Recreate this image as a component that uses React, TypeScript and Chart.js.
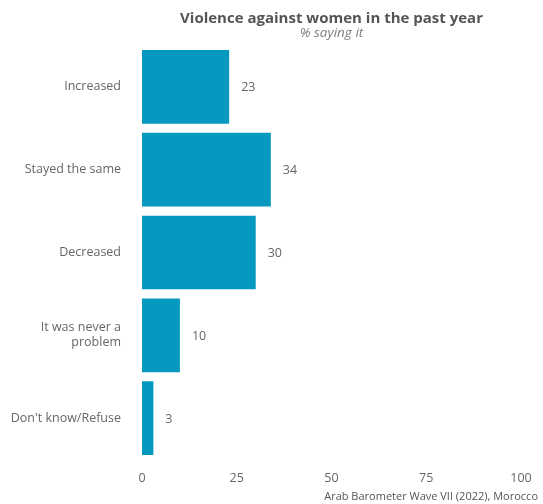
import React, { useEffect, useRef } from "react";
import { Chart, registerables } from "chart.js";

Chart.register(...registerables);

const categories: (string | string[])[] = [
  "Increased",
  "Stayed the same",
  "Decreased",
  ["It was never a", "problem"],
  "Don't know/Refuse",
];
const values: number[] = [23, 34, 30, 10, 3];
const xTicks: number[] = [0, 25, 50, 75, 100];
const titleText = "Violence against women in the past year";
const subtitleText = "% saying it";
const captionText = "Arab Barometer Wave VII (2022), Morocco";

const FONT = "'Open Sans', 'DejaVu Sans', sans-serif";
const BAR = "#0599bf";

export default function App() {
  const ref = useRef<HTMLCanvasElement>(null);
  useEffect(() => {
    document.body.style.margin = "0";
    const canvas = ref.current!;
    const labelsPlugin = {
      id: "extras",
      afterDatasetsDraw(chart: any) {
        const ctx = chart.ctx;
        const meta = chart.getDatasetMeta(0);
        ctx.save();
        ctx.font = `12.5px ${FONT}`;
        ctx.fillStyle = "#666666";
        ctx.textAlign = "left";
        ctx.textBaseline = "middle";
        meta.data.forEach((el: any, i: number) => {
          ctx.fillText(String(values[i]), el.x + 12, el.y + 1);
        });
        const ca = chart.chartArea;
        const cx = (ca.left + ca.right) / 2;
        ctx.textAlign = "center";
        ctx.textBaseline = "alphabetic";
        ctx.fillStyle = "#555555";
        ctx.font = `bold 15px ${FONT}`;
        ctx.fillText(titleText, cx, 23);
        ctx.fillStyle = "#808080";
        ctx.font = `italic 13.5px ${FONT}`;
        ctx.fillText(subtitleText, cx, 37);
        ctx.textAlign = "right";
        ctx.fillStyle = "#555555";
        ctx.font = `11px ${FONT}`;
        ctx.fillText(captionText, 538, 500);
        ctx.restore();
      },
    };
    const chart = new Chart(canvas, {
      type: "bar",
      data: {
        labels: categories as any,
        datasets: [
          {
            data: values,
            backgroundColor: BAR,
            categoryPercentage: 1,
            barPercentage: 0.89,
          },
        ],
      },
      options: {
        indexAxis: "y",
        responsive: false,
        animation: false,
        layout: { padding: { top: 45.5, right: 22, left: 0, bottom: 14 } },
        plugins: {
          legend: { display: false },
          tooltip: { enabled: false },
        },
        scales: {
          x: {
            min: 0,
            max: 100,
            afterBuildTicks(scale: any) {
              scale.ticks = xTicks.map((v) => ({ value: v }));
            },
            afterFit(scale: any) {
              scale.height = 30.5;
            },
            grid: { display: false, drawTicks: false },
            border: { display: false },
            ticks: {
              color: "#666666",
              font: { family: FONT, size: 12.5 },
              padding: 11,
            },
          },
          y: {
            afterFit(scale: any) {
              scale.width = 142;
            },
            grid: { display: false, drawTicks: false },
            border: { display: false },
            ticks: {
              color: "#666666",
              font: { family: FONT, size: 12.5 },
              padding: 21,
            },
          },
        },
      },
      plugins: [labelsPlugin],
    });
    return () => chart.destroy();
  }, []);
  return <canvas ref={ref} width={543} height={504} style={{ display: "block" }} />;
}
